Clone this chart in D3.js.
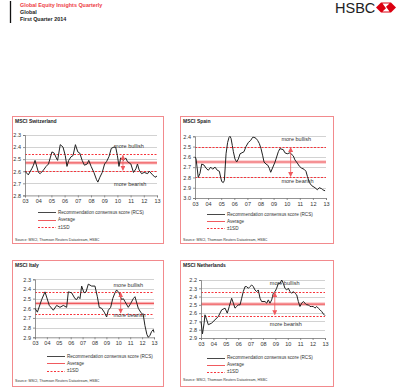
<!DOCTYPE html>
<html>
<head>
<meta charset="utf-8">
<script src="https://cdn.jsdelivr.net/npm/d3@7"></script>
<style>
  body { margin: 0; background: #fff; }
  svg { display: block; }
  text { font-family: "Liberation Sans", Arial, sans-serif; }
</style>
</head>
<body>
<div id="chart"></div>
<script>
// x axis: one label per year
const yearTicks = [2003, 2004, 2005, 2006, 2007, 2008, 2009, 2010, 2011, 2012, 2013];
const yearLabels = ['03', '04', '05', '06', '07', '08', '09', '10', '11', '12', '13'];

// recommendation consensus score, [year, RCS]
const swissRcs = [[2003.00,2.60],[2003.25,2.63],[2003.51,2.58],[2003.64,2.55],[2003.76,2.51],[2004.02,2.61],[2004.15,2.62],[2004.40,2.59],[2004.60,2.56],[2004.78,2.54],[2004.91,2.49],[2005.04,2.44],[2005.21,2.45],[2005.37,2.49],[2005.47,2.51],[2005.67,2.38],[2005.88,2.40],[2006.05,2.47],[2006.18,2.56],[2006.31,2.51],[2006.49,2.48],[2006.64,2.47],[2006.82,2.38],[2007.00,2.44],[2007.15,2.45],[2007.33,2.51],[2007.50,2.55],[2007.71,2.54],[2007.83,2.51],[2008.01,2.56],[2008.22,2.61],[2008.42,2.67],[2008.52,2.69],[2008.67,2.65],[2008.85,2.61],[2009.03,2.54],[2009.18,2.52],[2009.36,2.48],[2009.54,2.41],[2009.74,2.40],[2009.87,2.40],[2010.00,2.47],[2010.12,2.56],[2010.25,2.49],[2010.46,2.51],[2010.63,2.49],[2010.76,2.52],[2011.02,2.54],[2011.22,2.61],[2011.40,2.58],[2011.52,2.54],[2011.65,2.59],[2011.83,2.62],[2012.03,2.61],[2012.29,2.62],[2012.41,2.60],[2012.67,2.63],[2012.85,2.65],[2013.00,2.64]];
const spainRcs = [[2003.00,2.60],[2003.08,2.62],[2003.25,2.80],[2003.38,2.76],[2003.51,2.67],[2003.69,2.68],[2003.84,2.71],[2004.02,2.73],[2004.20,2.70],[2004.35,2.72],[2004.53,2.70],[2004.70,2.73],[2004.86,2.74],[2004.96,2.80],[2005.04,2.84],[2005.16,2.85],[2005.24,2.83],[2005.37,2.57],[2005.49,2.46],[2005.60,2.41],[2005.67,2.40],[2005.75,2.42],[2005.85,2.49],[2005.93,2.55],[2006.05,2.62],[2006.18,2.65],[2006.31,2.62],[2006.44,2.57],[2006.59,2.56],[2006.74,2.55],[2006.89,2.50],[2007.07,2.46],[2007.25,2.44],[2007.40,2.41],[2007.50,2.41],[2007.66,2.42],[2007.78,2.44],[2007.91,2.47],[2008.04,2.52],[2008.17,2.59],[2008.27,2.65],[2008.42,2.67],[2008.55,2.68],[2008.67,2.71],[2008.78,2.75],[2009.11,2.65],[2009.36,2.55],[2009.48,2.52],[2009.74,2.53],[2009.86,2.56],[2010.04,2.57],[2010.25,2.56],[2010.50,2.59],[2010.63,2.63],[2010.81,2.66],[2010.96,2.69],[2011.14,2.71],[2011.32,2.72],[2011.47,2.74],[2011.58,2.79],[2011.73,2.85],[2011.91,2.88],[2012.16,2.90],[2012.34,2.92],[2012.49,2.90],[2012.67,2.91],[2012.75,2.92],[2012.93,2.93]];
const italyRcs = [[2003.00,2.60],[2003.20,2.64],[2003.56,2.51],[2003.84,2.43],[2004.20,2.57],[2004.54,2.62],[2004.82,2.57],[2005.10,2.59],[2005.38,2.57],[2005.66,2.59],[2005.80,2.43],[2006.08,2.44],[2006.36,2.50],[2006.50,2.51],[2006.64,2.48],[2006.78,2.50],[2006.92,2.37],[2007.12,2.44],[2007.29,2.43],[2007.48,2.35],[2007.76,2.37],[2008.04,2.37],[2008.24,2.48],[2008.40,2.59],[2008.60,2.60],[2008.82,2.64],[2009.02,2.69],[2009.16,2.62],[2009.36,2.59],[2009.53,2.50],[2009.72,2.44],[2009.86,2.41],[2010.06,2.44],[2010.28,2.51],[2010.42,2.50],[2010.56,2.53],[2010.84,2.59],[2011.04,2.55],[2011.26,2.50],[2011.40,2.48],[2011.68,2.60],[2011.88,2.64],[2012.10,2.67],[2012.24,2.78],[2012.40,2.87],[2012.52,2.90],[2012.66,2.88],[2012.80,2.84],[2012.94,2.82],[2013.00,2.85]];
const nethRcs = [[2003.00,2.70],[2003.12,2.85],[2003.25,2.72],[2003.32,2.62],[2003.46,2.68],[2003.59,2.74],[2003.86,2.72],[2004.13,2.68],[2004.40,2.64],[2004.53,2.60],[2004.67,2.56],[2004.94,2.54],[2005.12,2.60],[2005.28,2.52],[2005.47,2.42],[2005.61,2.48],[2005.74,2.54],[2005.88,2.52],[2006.01,2.50],[2006.15,2.50],[2006.28,2.42],[2006.41,2.34],[2006.55,2.28],[2006.68,2.28],[2006.82,2.30],[2006.95,2.28],[2007.09,2.26],[2007.22,2.28],[2007.35,2.32],[2007.49,2.34],[2007.62,2.32],[2007.76,2.42],[2007.89,2.46],[2008.16,2.46],[2008.30,2.48],[2008.43,2.44],[2008.56,2.48],[2008.70,2.44],[2008.83,2.36],[2008.97,2.34],[2009.10,2.30],[2009.24,2.24],[2009.37,2.24],[2009.51,2.20],[2009.64,2.24],[2009.77,2.30],[2009.91,2.32],[2010.04,2.30],[2010.18,2.34],[2010.31,2.36],[2010.45,2.34],[2010.58,2.36],[2010.72,2.38],[2010.85,2.46],[2010.98,2.52],[2011.12,2.48],[2011.25,2.46],[2011.39,2.48],[2011.52,2.50],[2011.66,2.50],[2011.79,2.52],[2011.92,2.52],[2012.06,2.52],[2012.19,2.54],[2012.33,2.52],[2012.46,2.54],[2012.60,2.56],[2012.73,2.58],[2012.87,2.61],[2013.00,2.63]];

// average and +/-1 standard deviation, one per panel
const averages = [2.53, 2.65, 2.55, 2.49];
const sdBullish = [2.46, 2.50, 2.43, 2.34];
const sdBearish = [2.60, 2.80, 2.66, 2.63];

// y tick labels, one list per panel
const swissTicks = [2.3, 2.4, 2.5, 2.6, 2.7, 2.8];
const spainTicks = [2.4, 2.5, 2.6, 2.7, 2.8, 2.9, 3.0];
const italyTicks = [2.3, 2.4, 2.5, 2.6, 2.7, 2.8, 2.9];
const nethTicks = [2.2, 2.3, 2.4, 2.5, 2.6, 2.7, 2.8, 2.9];

const titles = ['MSCI Switzerland', 'MSCI Spain', 'MSCI Italy', 'MSCI Netherlands'];
const legendLabels = ['Recommendation consensus score (RCS)', 'Average', '\u00b11SD'];
const sourceText = 'Source: MSCI, Thomson Reuters Datastream, HSBC';

const W = 400, H = 391;
const red = '#f05a5e';
const dotRed = '#f7343b';
const boxColor = '#f28a8d';

const svg = d3.select('#chart').append('svg')
  .attr('width', W)
  .attr('height', H);

svg.append('defs').append('marker')
  .attr('id', 'arr')
  .attr('viewBox', '0 0 10 10')
  .attr('refX', 9).attr('refY', 5)
  .attr('markerWidth', 5).attr('markerHeight', 5)
  .attr('markerUnits', 'userSpaceOnUse')
  .attr('orient', 'auto-start-reverse')
  .append('path')
  .attr('d', 'M0,0 L10,5 L0,10 z')
  .attr('fill', red);

// header
svg.append('line')
  .attr('x1', 10.5).attr('x2', 10.5).attr('y1', 1).attr('y2', 23)
  .attr('stroke', '#111').attr('stroke-width', 1.3);
const head = svg.append('g').attr('font-size', 5.4).attr('font-weight', 'bold');
head.append('text').attr('x', 20).attr('y', 7).attr('fill', '#ee3b43').text('Global Equity Insights Quarterly');
head.append('text').attr('x', 20).attr('y', 14).attr('fill', '#222').text('Global');
head.append('text').attr('x', 20).attr('y', 21).attr('fill', '#222').text('First Quarter 2014');

svg.append('text')
  .attr('x', 335).attr('y', 13)
  .attr('font-family', '"Liberation Serif", "Times New Roman", serif')
  .attr('font-size', 14.5)
  .attr('fill', '#222')
  .text('HSBC');
const logo = svg.append('g');
logo.append('polygon')
  .attr('points', '376,7.5 381,2.5 391,2.5 396,7.5 391,12.5 381,12.5')
  .attr('fill', '#db0011');
logo.append('polygon')
  .attr('points', '382.5,3.5 389.5,3.5 386,6.8 389.5,11.5 382.5,11.5 386,8.2')
  .attr('fill', '#fff');

const panels = [
  { title: titles[0], data: swissRcs, ticks: swissTicks, i: 0,
    box: [12, 116, 151, 127], x0: 25, x1: 157, y0: 135, y1: 195.4,
    arrowYear: 2010.42, bullY: -6, bearY: 15, textYear: 2009.75,
    legX: 38, legY: [212, 219.5, 227], srcY: 241 },
  { title: titles[1], data: spainRcs, ticks: spainTicks, i: 1,
    box: [180, 116, 153, 127], x0: 195, x1: 326, y0: 136.3, y1: 198,
    arrowYear: 2010.3, bullY: -6, bearY: 6, textYear: 2009.6,
    legX: 207, legY: [214, 221, 228], srcY: 241 },
  { title: titles[2], data: italyRcs, ticks: italyTicks, i: 2,
    box: [12, 260, 151, 126], x0: 35, x1: 154, y0: 279.3, y1: 337.3,
    arrowYear: 2010.2, bullY: -5, bearY: 3, textYear: 2009.6,
    legX: 47, legY: [356, 363, 370.5], srcY: 382 },
  { title: titles[3], data: nethRcs, ticks: nethTicks, i: 3,
    box: [180, 260, 153, 126], x0: 201, x1: 325, y0: 280, y1: 338,
    arrowYear: 2008.95, bullY: -7, bearY: 10, textYear: 2008.55,
    legX: 207, legY: [357.5, 364.5, 371.5], srcY: 381 }
];

panels.forEach(p => drawPanel(p));

function drawPanel(p) {
  const g = svg.append('g');
  const [bx, by, bw, bh] = p.box;

  g.append('rect')
    .attr('x', bx + 0.5).attr('y', by + 0.5)
    .attr('width', bw).attr('height', bh)
    .attr('fill', '#fff')
    .attr('stroke', boxColor).attr('stroke-width', 1);

  g.append('text')
    .attr('x', bx + 3).attr('y', by + 7)
    .attr('font-size', 5).attr('font-weight', 'bold').attr('fill', '#222')
    .text(p.title);

  const x = d3.scaleLinear().domain([2003, 2013]).range([p.x0, p.x1]);
  const y = d3.scaleLinear()
    .domain([p.ticks[0], p.ticks[p.ticks.length - 1]])
    .range([p.y0, p.y1]);

  // grid
  g.append('g').selectAll('line')
    .data(p.ticks.slice(0, -1))
    .join('line')
    .attr('x1', p.x0).attr('x2', p.x1)
    .attr('y1', d => Math.round(y(d)) + 0.5).attr('y2', d => Math.round(y(d)) + 0.5)
    .attr('stroke', '#d2d2d2').attr('stroke-width', 1);

  // average and +/-1SD
  g.append('line')
    .attr('x1', p.x0).attr('x2', p.x1)
    .attr('y1', y(averages[p.i])).attr('y2', y(averages[p.i]))
    .attr('stroke', '#fbc9ca').attr('stroke-width', 3.5);
  g.append('line')
    .attr('x1', p.x0).attr('x2', p.x1)
    .attr('y1', y(averages[p.i])).attr('y2', y(averages[p.i]))
    .attr('stroke', red).attr('stroke-width', 1.2);
  [sdBullish[p.i], sdBearish[p.i]].forEach(v => {
    g.append('line')
      .attr('x1', p.x0).attr('x2', p.x1)
      .attr('y1', Math.round(y(v)) + 0.5).attr('y2', Math.round(y(v)) + 0.5)
      .attr('stroke', dotRed).attr('stroke-width', 1.2)
      .attr('stroke-dasharray', '2,1.5');
  });

  // axes
  const yAxis = g.append('g')
    .attr('transform', `translate(${p.x0},0)`)
    .call(d3.axisLeft(y).tickValues(p.ticks).tickFormat(d3.format('.1f')).tickSize(2).tickPadding(2));
  const xAxis = g.append('g')
    .attr('transform', `translate(0,${p.y1})`)
    .call(d3.axisBottom(x).tickValues(yearTicks).tickFormat((d, i) => yearLabels[i]).tickSize(2).tickPadding(2));
  [yAxis, xAxis].forEach(a => {
    a.selectAll('path, line').attr('stroke', '#777').attr('stroke-width', 0.8);
    a.selectAll('text').attr('font-size', 5.5).attr('fill', '#333').attr('font-family', '"Liberation Sans", Arial, sans-serif');
  });

  // RCS line
  g.append('path')
    .datum(p.data)
    .attr('d', d3.line().x(d => x(d[0])).y(d => y(d[1])))
    .attr('fill', 'none')
    .attr('stroke', '#222').attr('stroke-width', 1);

  // annotation
  const ax = x(p.arrowYear);
  const yb = y(sdBullish[p.i]), ye = y(sdBearish[p.i]);
  g.append('line')
    .attr('x1', ax).attr('x2', ax)
    .attr('y1', yb + 1).attr('y2', ye - 1)
    .attr('stroke', red).attr('stroke-width', 0.8)
    .attr('marker-start', 'url(#arr)').attr('marker-end', 'url(#arr)');
  g.append('text')
    .attr('x', x(p.textYear)).attr('y', yb + p.bullY)
    .attr('font-size', 5.5).attr('fill', '#333')
    .text('more bullish');
  g.append('text')
    .attr('x', x(p.textYear)).attr('y', ye + p.bearY)
    .attr('font-size', 5.5).attr('fill', '#333')
    .text('more bearish');

  // legend
  const styles = [
    { stroke: '#333', dash: null, w: 0.9 },
    { stroke: red, dash: null, w: 1 },
    { stroke: dotRed, dash: '2,1.5', w: 1.2 }
  ];
  legendLabels.forEach((lab, k) => {
    g.append('line')
      .attr('x1', p.legX).attr('x2', p.legX + 18)
      .attr('y1', Math.round(p.legY[k]) + 0.5).attr('y2', Math.round(p.legY[k]) + 0.5)
      .attr('stroke', styles[k].stroke).attr('stroke-width', styles[k].w)
      .attr('stroke-dasharray', styles[k].dash);
    g.append('text')
      .attr('x', p.legX + 20).attr('y', p.legY[k] + 1.8)
      .attr('font-size', 4.6).attr('fill', '#333')
      .text(lab);
  });

  g.append('text')
    .attr('x', bx + 3).attr('y', p.srcY)
    .attr('font-size', 3.6).attr('fill', '#333')
    .text(sourceText);
}
</script>
</body>
</html>
